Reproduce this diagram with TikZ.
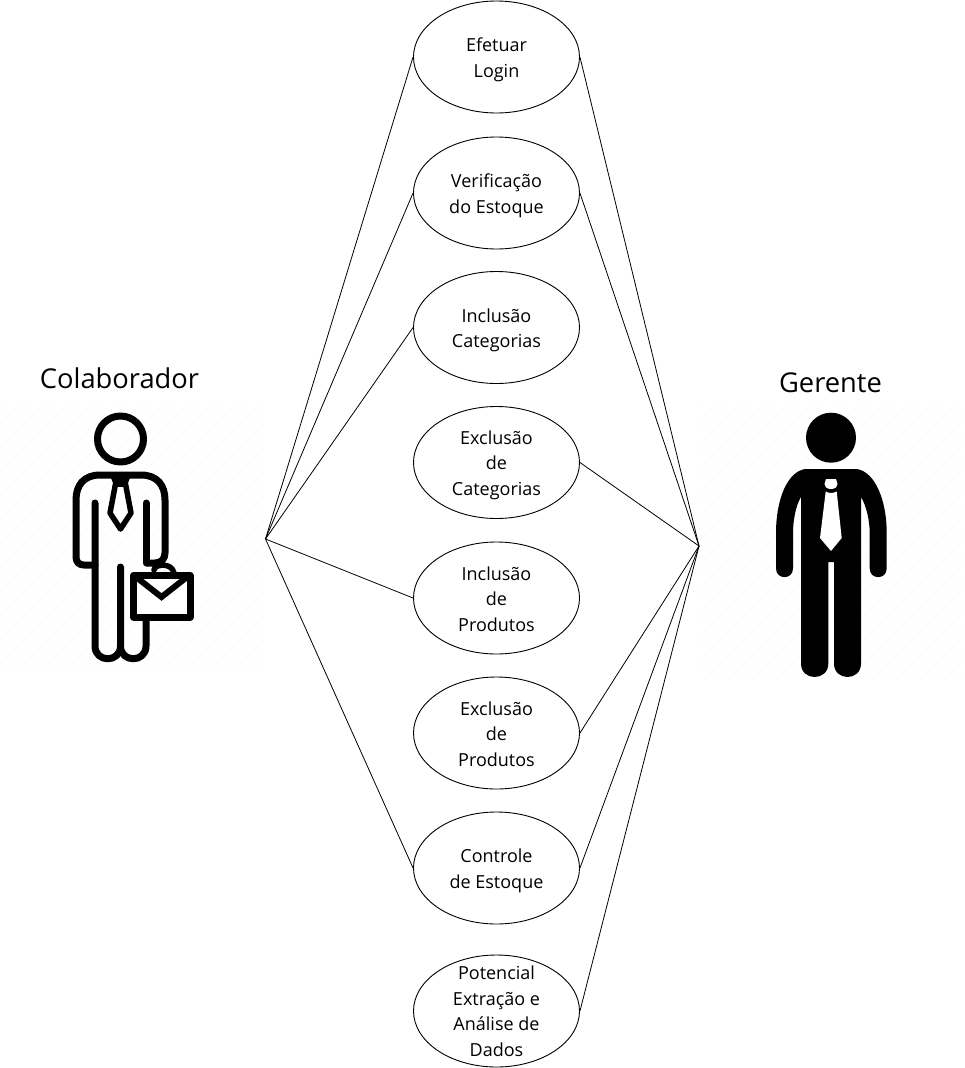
\documentclass[tikz,border=0pt]{standalone}
\usepackage{fontspec}
\setmainfont{Open Sans}
\usetikzlibrary{shapes.geometric}
\tikzset{
  uc/.style={draw=black,fill=white,ellipse,line width=0.9pt,inner sep=0pt,minimum width=166pt,minimum height=112pt},
  uctext/.style={align=center,inner sep=0pt,font=\fontsize{18}{25.5}\selectfont},
  title/.style={inner sep=0pt,font=\fontsize{27.3}{30}\selectfont},
  link/.style={draw=black,line width=0.8pt},
  icon/.style={draw=black,line width=7pt,line cap=round,line join=round},
  hatch/.style={draw=black!2,line width=0.7pt}
}
\begin{document}
\begin{tikzpicture}[x=1pt,y=-1pt]
\useasboundingbox (0,0) rectangle (964,1068);
% faint background hatching
\begin{scope}
\clip (0,405) rectangle (265,670) (700,405) rectangle (964,680);
\foreach \i in {0,12,...,1320}{\draw[hatch] (\i-280,680) -- (\i,400);}
\end{scope}
% coordinates of the actors' hubs
\coordinate (hubL) at (265.5,539);
\coordinate (hubR) at (699,546);
% use cases
\node[uc] (e1) at (496.5,57) {};
\node[uc] (e2) at (496.5,193) {};
\node[uc] (e3) at (496.5,327.5) {};
\node[uc] (e4) at (496.5,462.5) {};
\node[uc] (e5) at (496.5,598) {};
\node[uc] (e6) at (496.5,733) {};
\node[uc] (e7) at (496.5,868) {};
\node[uc] (e8) at (496.5,1011) {};
\node[uctext] (t1) at ([yshift=-3pt]e1.center) {Efetuar\\Login};
\node[uctext] (t2) at ([yshift=-3pt]e2.center) {Verificação\\do Estoque};
\node[uctext] (t3) at ([yshift=-3pt]e3.center) {Inclusão\\Categorias};
\node[uctext] (t4) at ([yshift=-2.5pt]e4.center) {Exclusão\\de\\Categorias};
\node[uctext] (t5) at ([yshift=-1pt]e5.center) {Inclusão\\de\\Produtos};
\node[uctext] (t6) at ([yshift=-1pt]e6.center) {Exclusão\\de\\Produtos};
\node[uctext] (t7) at ([yshift=-3pt]e7.center) {Controle\\de Estoque};
\node[uctext] (t8) at (e8) {Potencial\\Extração e\\Análise de\\Dados};
% connectors
\foreach \n in {e1,e2,e3,e5,e7}{\draw[link] (hubL) -- (\n.west);}
\foreach \n in {e1,e2,e4,e6,e7,e8}{\draw[link] (hubR) -- (\n.east);}
% titles
\node[title] (colab) at (119.5,378) {Colaborador};
\node[title] (ger) at (830.5,383) {Gerente};
% Colaborador icon
\draw[icon] (120.5,439) circle[radius=23];
\draw[icon] (95,565) -- (84,565) .. controls (79,565) and (76,562) .. (76,557) -- (76,500)
  .. controls (76,485) and (84,475) .. (100,475) -- (141,475)
  .. controls (157,475) and (165,485) .. (165,500) -- (165,553)
  .. controls (165,559) and (161,563) .. (155,563) -- (147,563);
\draw[icon] (95,503) -- (95,646) .. controls (95,663) and (120.5,663) .. (120.5,646) -- (120.5,567);
\draw[icon] (120.5,646) .. controls (120.5,663) and (146,663) .. (146,646) -- (146,610);
\draw[icon] (146,503) -- (146,563);
% tie
\draw[icon,line width=4pt,line cap=butt,line join=miter] (114,480) -- (127,480) -- (125,485) -- (116,485) -- cycle;
\draw[icon,line width=5.5pt,fill=white] (115.5,484) -- (125.5,484) -- (131,513) -- (120.5,529) -- (110,513) -- cycle;
% briefcase
\draw[icon,line width=5.5pt] (154,570) .. controls (154,564) and (172,562) .. (174,573);
\draw[icon,fill=white] (133.5,575.5) -- (190,575.5) -- (190,617) -- (133.5,617) -- cycle;
\draw[icon,line width=6pt,line cap=butt,line join=miter] (136,577) -- (161.5,597) -- (187,577);
% Gerente icon
\fill[black] (831,437.7) circle[radius=25];
\fill[black] (805,469) -- (857,469) .. controls (875,472) and (886.7,500) .. (886.7,533) -- (886.7,568.5)
  .. controls (886.7,580) and (869.7,580) .. (869.7,568.5) -- (869.7,533)
  .. controls (869.7,520) and (866,505) .. (861,497) -- (861,663.5)
  .. controls (861,681.5) and (834,681.5) .. (834,663.5) -- (834,562) -- (828.3,562) -- (828.3,663.5)
  .. controls (828.3,681.5) and (801,681.5) .. (801,663.5) -- (801,497)
  .. controls (796,505) and (793,520) .. (793,533) -- (793,568.5)
  .. controls (793,580) and (776,580) .. (776,568.5) -- (776,533)
  .. controls (776,500) and (787,472) .. (805,469) -- cycle;
\fill[white] (826,479) -- (836,479) -- (837.5,484) -- (836,487.5) .. controls (833,489.5) and (829,489.5) .. (826,487.5) -- (824.5,484) -- cycle;
\fill[white] (825.7,491.5) .. controls (829,493.5) and (833,493.5) .. (836.7,491.5) -- (841.7,538) -- (831,551) -- (820,538) -- cycle;
\end{tikzpicture}
\end{document}
